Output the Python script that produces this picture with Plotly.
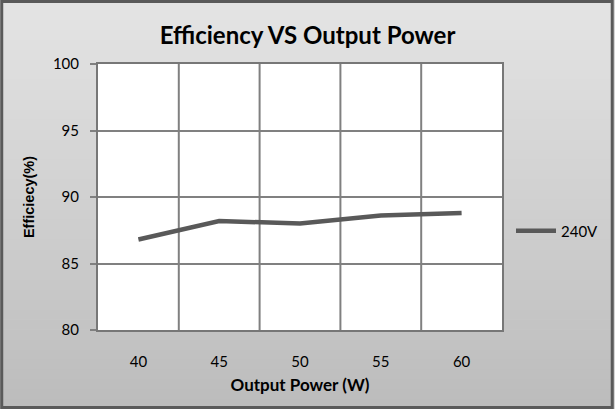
import plotly.graph_objects as go

categories = ["40", "45", "50", "55", "60"]
eff_240v = [86.8, 88.2, 88.0, 88.6, 88.8]
y_ticks = [80, 85, 90, 95, 100]

W, H = 615, 409
ml, mr, mt, mb = 98, 112, 64, 79
pw, ph = W - ml - mr, H - mt - mb

def px_x(v):
    return (v - ml) / pw

def px_y(v):
    return (H - mb - v) / ph

shapes = []
n = 41
top_c, bot_c = 228, 188
for i in range(n):
    y0p = i * H / n
    y1p = (i + 1) * H / n + 0.5
    t = i / (n - 1)
    c = round(top_c + (bot_c - top_c) * t)
    shapes.append(dict(type="rect", xref="paper", yref="paper",
                       x0=px_x(0), x1=px_x(W), y0=px_y(y1p), y1=px_y(y0p),
                       fillcolor=f"rgb({c},{c},{c})", line=dict(width=0), layer="below"))
shapes.append(dict(type="rect", xref="paper", yref="paper", x0=0, x1=1, y0=0, y1=1,
                   fillcolor="white", line=dict(width=0), layer="below"))
shapes.append(dict(type="rect", xref="paper", yref="paper",
                   x0=px_x(1.5), x1=px_x(W - 1.5), y0=px_y(H - 1.5), y1=px_y(1.5),
                   line=dict(color="#5a5a5a", width=3), fillcolor="rgba(0,0,0,0)", layer="above"))

fig = go.Figure()
fig.add_trace(go.Scatter(x=categories, y=eff_240v, mode="lines", name="240V",
                         line=dict(color="#595959", width=4.5)))

fig.update_layout(
    width=W, height=H,
    margin=dict(l=ml, r=mr, t=mt, b=mb),
    paper_bgcolor="#d6d6d6", plot_bgcolor="white",
    font=dict(family="Lato, Arial", color="black", size=15),
    title=dict(text="<b>Efficiency VS Output Power</b>", x=0.5, xref="container", xanchor="center",
               y=1 - 36 / H, yanchor="middle", yref="container",
               font=dict(size=24, family="Lato, Arial", color="black")),
    showlegend=True,
    legend=dict(x=px_x(511), y=px_y(231), xanchor="left", yanchor="middle",
                bgcolor="rgba(0,0,0,0)", font=dict(size=15, family="Lato, Arial"),
                itemwidth=40),
    shapes=shapes,
    xaxis=dict(type="category", showgrid=False, showline=True, mirror=True,
               linecolor="#777777", linewidth=2, ticks="", tickfont=dict(size=15),
               ticklabelstandoff=17,
               title=dict(text="<b>Output Power (W)</b>", font=dict(size=17), standoff=10),
               range=[-0.5, 4.5]),
    yaxis=dict(range=[80, 100], tickvals=y_ticks, showgrid=True, gridcolor="#808080",
               gridwidth=2, showline=True, mirror=True, linecolor="#777777", linewidth=2,
               ticks="outside", ticklen=6, tickcolor="#808080", tickwidth=2,
               tickfont=dict(size=15), ticklabelstandoff=8,
               title=dict(text="<b>Efficiecy(%)</b>", font=dict(size=14.5, family="Arial"),
                          standoff=15)),
)
for k in range(1, 5):
    fig.add_vline(x=k - 0.5, line=dict(color="#808080", width=2), layer="below")

fig.write_html("out.html", config={"displayModeBar": False},
               post_script="document.body.style.margin='0';")
